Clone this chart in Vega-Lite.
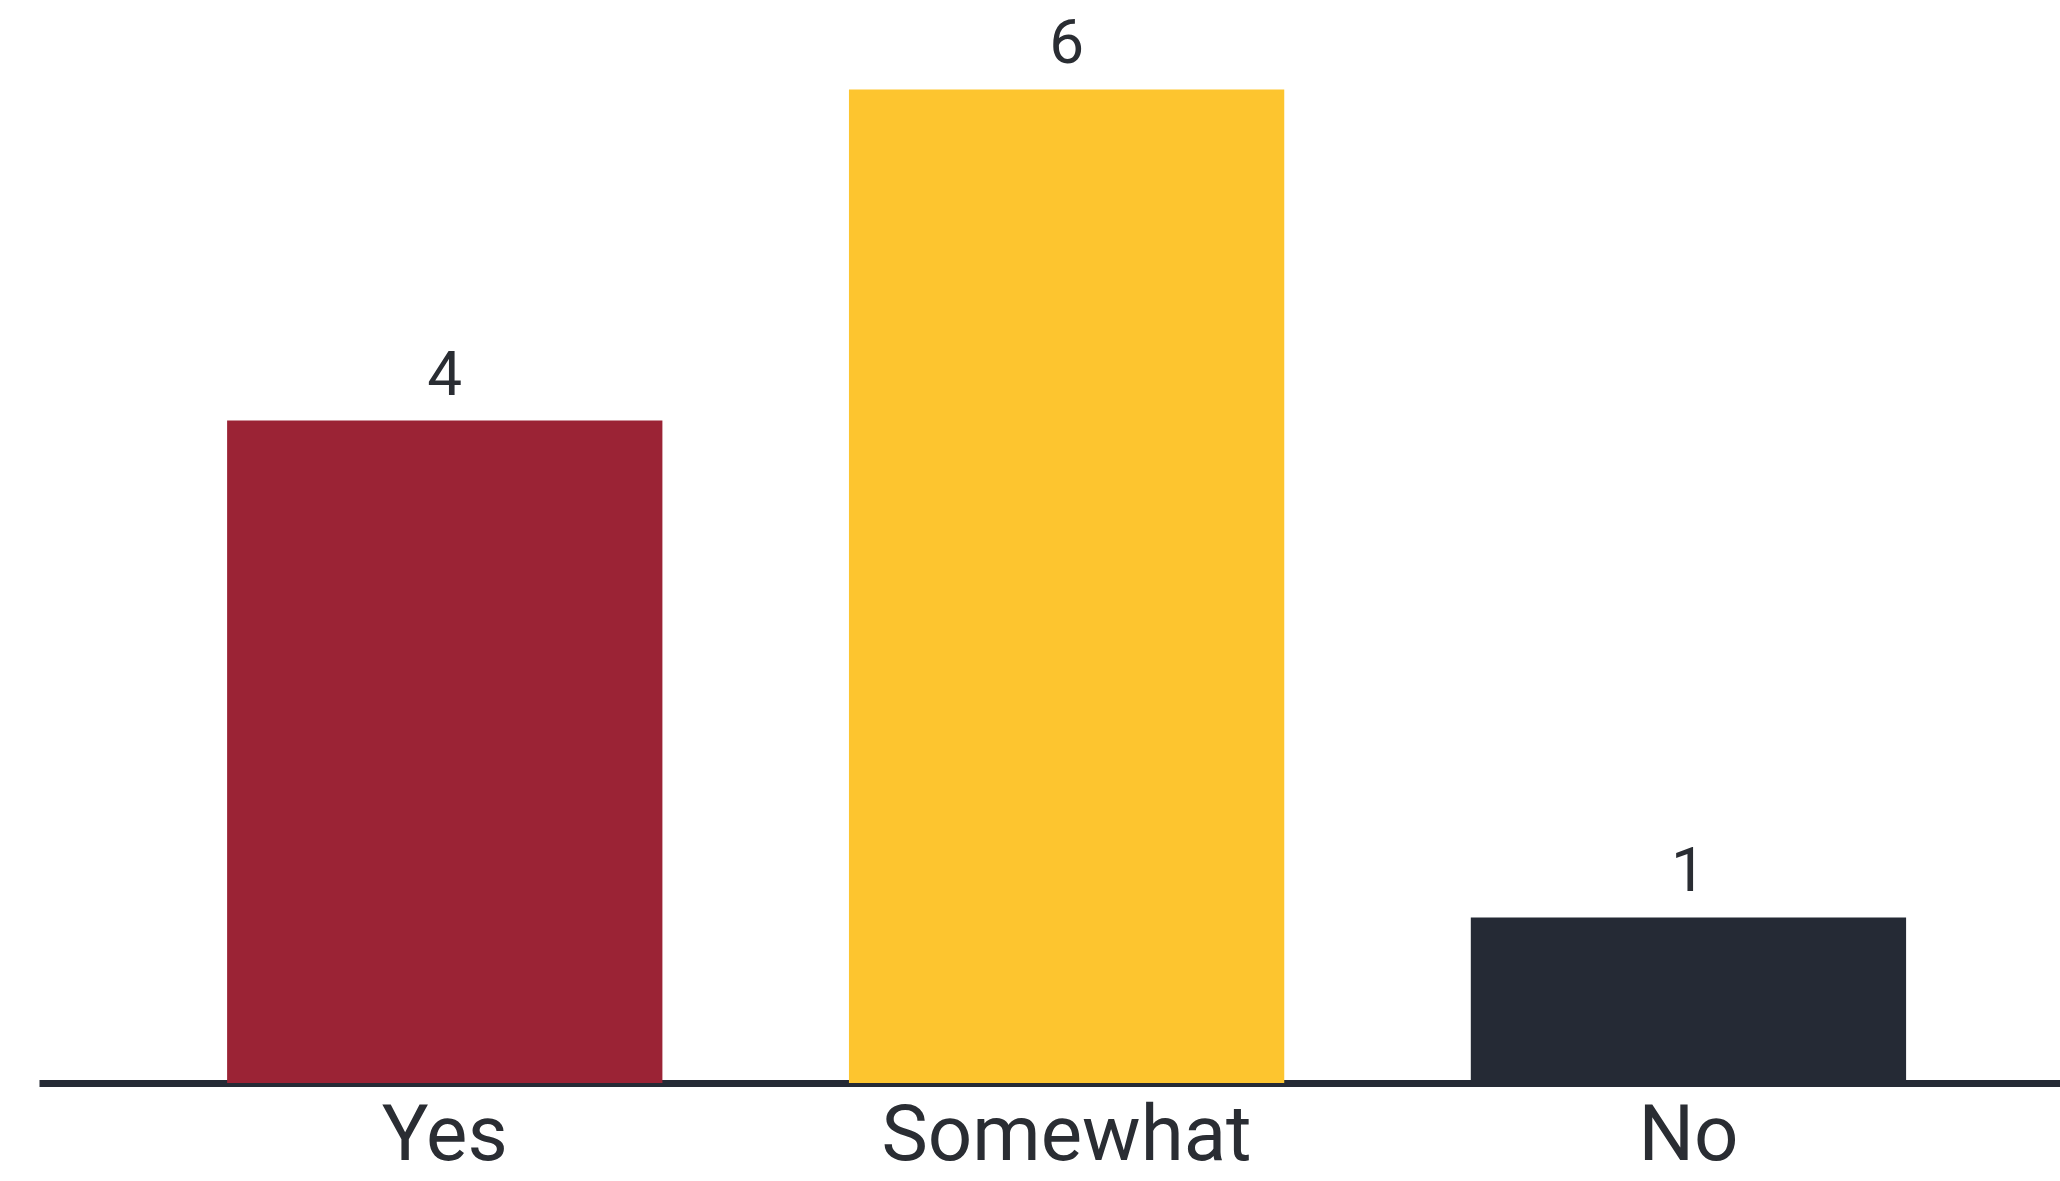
{
  "$schema": "https://vega.github.io/schema/vega-lite/v6.json",
  "width": 2060,
  "height": 1181,
  "autosize": {"type": "fit", "contains": "padding"},
  "padding": {"left": 39, "top": 0, "right": 0, "bottom": 6},
  "background": "#ffffff",
  "config": {"view": {"stroke": null}, "font": "Roboto"},
  "data": {"values": [
    {"answer": "Yes", "count": 4},
    {"answer": "Somewhat", "count": 6},
    {"answer": "No", "count": 1}
  ]},
  "encoding": {
    "x": {"field": "answer", "type": "nominal", "sort": null,
      "scale": {"paddingInner": 0.3, "paddingOuter": 0.275, "align": 0.55},
      "axis": {"title": null, "labelAngle": 0, "labelFontSize": 78, "labelColor": "#2a2d33",
        "labelFont": "Roboto", "labelLimit": 0, "ticks": false, "labelPadding": 14,
        "domainColor": "#252a35", "domainWidth": 7}},
    "y": {"field": "count", "type": "quantitative",
      "scale": {"domain": [0, 6.54], "nice": false, "zero": true},
      "axis": null}
  },
  "layer": [
    {"mark": {"type": "bar"},
      "encoding": {"color": {"field": "answer", "type": "nominal", "legend": null,
        "scale": {"domain": ["Yes", "Somewhat", "No"], "range": ["#9b2335", "#fdc52f", "#252a35"]}}}},
    {"mark": {"type": "text", "baseline": "alphabetic", "dy": -26, "fontSize": 62, "color": "#2a2d33", "font": "Roboto"},
      "encoding": {"text": {"field": "count", "type": "quantitative"}}}
  ]
}
